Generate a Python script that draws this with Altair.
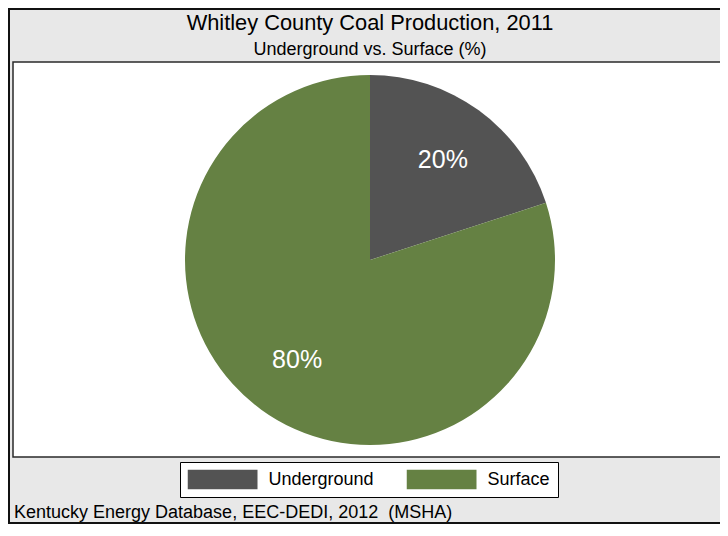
import altair as alt
import pandas as pd

# ---- data ----
categories = ["Underground", "Surface"]
shares = [20, 80]
colors = ["#535353", "#658143"]
title_text = "Whitley County Coal Production, 2011"
subtitle_text = "Underground vs. Surface (%)"
footer_text = "Kentucky Energy Database, EEC-DEDI, 2012\u00a0 (MSHA)"

FONT = "Liberation Sans"
W, H = 707, 395          # plot (view) area
PAD = {"left": 5, "top": 54, "right": 0, "bottom": 67}
CX, CY = 357, 198        # pie centre inside the view

pie_df = pd.DataFrame({
    "category": categories,
    "share": shares,
    "order": list(range(len(categories))),
    "label": [f"{v}%" for v in shares],
})
one = pd.DataFrame({"k": [0]})

outer = alt.Chart(one).mark_rect(fill="#e8e8e8", stroke="#111111", strokeWidth=2).encode(
    x=alt.value(-4), x2=alt.value(W + 40), y=alt.value(-53), y2=alt.value(H + 66)
)
plot_bg = alt.Chart(one).mark_rect(fill="white", stroke="#2a2a2a", strokeWidth=1.5).encode(
    x=alt.value(0), x2=alt.value(W + 40), y=alt.value(0), y2=alt.value(H)
)

base = alt.Chart(pie_df).encode(
    theta=alt.Theta("share:Q", stack=True),
    order=alt.Order("order:Q"),
    x=alt.value(CX),
    y=alt.value(CY),
)

arcs = base.mark_arc(outerRadius=185, stroke=None).encode(
    color=alt.Color(
        "category:N",
        scale=alt.Scale(domain=categories, range=colors),
        sort=categories,
        legend=alt.Legend(
            title=None,
            orient="none",
            legendX=167,
            legendY=400,
            direction="horizontal",
            columns=2,
            fillColor="white",
            strokeColor="black",
            padding=7.5,
            symbolType="M-1,-0.2857H1V0.2857H-1Z",
            symbolSize=4900,
            symbolStrokeWidth=0,
            symbolOpacity=1,
            clipHeight=20,
            labelFont=FONT,
            labelFontSize=18,
            labelColor="black",
            labelOffset=11,
            columnPadding=32,
            rowPadding=0,
        ),
    )
)

labels = base.mark_text(radius=124, font=FONT, fontSize=25, color="white").encode(
    text="label:N"
)

title = alt.Chart(pd.DataFrame({"t": [title_text]})).mark_text(
    font=FONT, fontSize=21.8, color="black", align="center", baseline="alphabetic"
).encode(text="t:N", x=alt.value(CX), y=alt.value(-32))

subtitle = alt.Chart(pd.DataFrame({"t": [subtitle_text]})).mark_text(
    font=FONT, fontSize=18, color="black", align="center", baseline="alphabetic"
).encode(text="t:N", x=alt.value(CX), y=alt.value(-7))

footer = alt.Chart(pd.DataFrame({"t": [footer_text]})).mark_text(
    font=FONT, fontSize=18, color="black", align="left", baseline="alphabetic"
).encode(text="t:N", x=alt.value(1), y=alt.value(H + 61))

chart = alt.layer(outer, plot_bg, arcs, labels, title, subtitle, footer).properties(
    width=W,
    height=H,
    padding=PAD,
    autosize=alt.AutoSizeParams(type="none"),
    background="#e8e8e8",
).configure_view(stroke=None)

chart.save("out.html", embed_options={"renderer": "svg", "actions": False})
